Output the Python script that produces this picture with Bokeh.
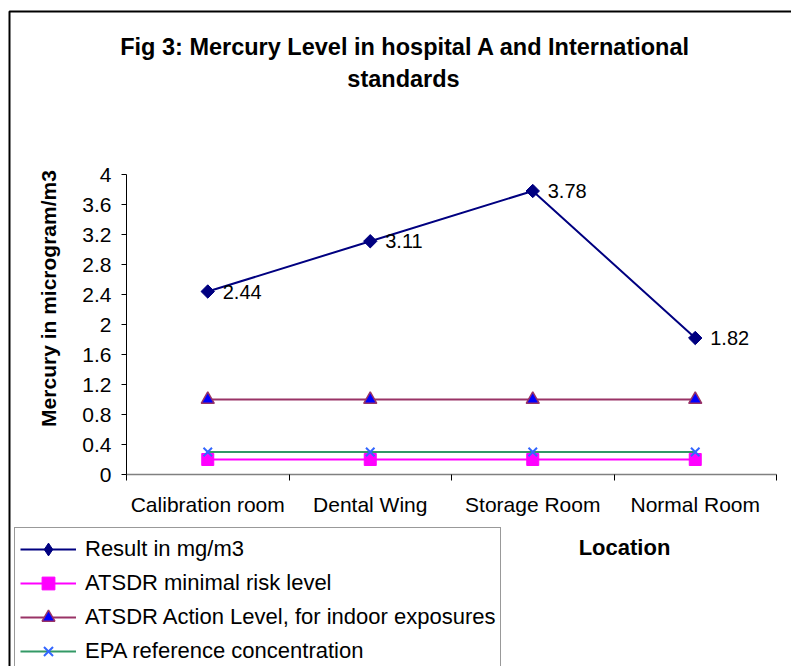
import math
from bokeh.plotting import figure
from bokeh.models import (Range1d, FixedTicker, LabelSet, Label, ColumnDataSource,
                          Legend, LegendItem, BoxAnnotation)
from bokeh.core.properties import value
from bokeh.embed import file_html
from bokeh.resources import INLINE

# ---- data ----
categories = ["Calibration room", "Dental Wing", "Storage Room", "Normal Room"]
result_values = [2.44, 3.11, 3.78, 1.82]
atsdr_mrl = [0.2, 0.2, 0.2, 0.2]
atsdr_action = [1.0, 1.0, 1.0, 1.0]
epa_ref = [0.3, 0.3, 0.3, 0.3]
series_names = ["Result in mg/m3", "ATSDR minimal risk level",
                "ATSDR Action Level, for indoor exposures", "EPA reference concentration"]
y_ticks = [0, 0.4, 0.8, 1.2, 1.6, 2, 2.4, 2.8, 3.2, 3.6, 4]
y_tick_labels = ["0", "0.4", "0.8", "1.2", "1.6", "2", "2.4", "2.8", "3.2", "3.6", "4"]
y_max = 4
title_lines = ["Fig 3: Mercury Level in hospital A and International", "standards"]
y_title = "Mercury in microgram/m3"
x_title = "Location"

FONT = "Liberation Sans"

# ---- layout (pixels on the page) ----
W, H = 791, 666
PX_LEFT, PX_RIGHT, PX_TOP, PX_BOTTOM = 126, 776, 174, 474

n = len(categories)
xs = [i + 0.5 for i in range(n)]
sx_per = (PX_RIGHT - PX_LEFT) / n
sy_per = (PX_BOTTOM - PX_TOP) / y_max
x_start, x_end = -PX_LEFT / sx_per, n + (W - PX_RIGHT) / sx_per
y_start, y_end = -(H - PX_BOTTOM) / sy_per, y_max + PX_TOP / sy_per

p = figure(width=W, height=H, output_backend="svg", toolbar_location=None,
           title=None, x_range=Range1d(x_start, x_end), y_range=Range1d(y_start, y_end),
           min_border=0)
p.grid.visible = False
p.outline_line_color = None
p.background_fill_color = "white"
p.border_fill_color = "white"

# outer chart border (left and top edges visible)
p.add_layout(BoxAnnotation(left=(9 - PX_LEFT) / sx_per, right=x_end + 1,
                           top=(PX_BOTTOM - 11) / sy_per, bottom=y_start - 1,
                           fill_alpha=0, line_color="#000000", line_alpha=1,
                           line_width=2, level="underlay"))

# axes drawn at the data origin
xa = p.xaxis[0]
xa.fixed_location = 0
xa.bounds = (0, n)
xa.ticker = FixedTicker(ticks=xs, minor_ticks=list(range(n + 1)))
xa.major_label_overrides = {x: c for x, c in zip(xs, categories)}
xa.major_tick_line_color = None
xa.major_tick_out = 0
xa.major_tick_in = 0
xa.minor_tick_out = 6
xa.minor_tick_in = 0
xa.minor_tick_line_color = "#000000"
xa.axis_line_color = "#808080"
xa.axis_line_width = 1.5
xa.major_label_text_font = FONT
xa.major_label_text_font_size = "21px"
xa.major_label_text_color = "#000000"
xa.major_label_standoff = 12

ya = p.yaxis[0]
ya.fixed_location = 0
ya.bounds = (0, y_max)
ya.ticker = FixedTicker(ticks=y_ticks)
ya.major_label_overrides = {t: l for t, l in zip(y_ticks, y_tick_labels)}
ya.minor_tick_line_color = None
ya.major_tick_out = 5
ya.major_tick_in = 0
ya.major_tick_line_color = "#000000"
ya.axis_line_color = "#000000"
ya.major_label_text_font = FONT
ya.major_label_text_font_size = "21px"
ya.major_label_text_color = "#000000"
ya.major_label_standoff = 10

# series
r1l = p.line(xs, result_values, line_color="#000080", line_width=2)
# diamond (used for the legend key) sits under the rotated square drawn on top
r1d = p.scatter(xs, result_values, marker="diamond", size=12,
                fill_color="#000080", line_color="#000080")
r1m = p.scatter(xs, result_values, marker="square", angle=math.pi / 4, size=9.5,
                fill_color="#000080", line_color="#000080")
r2l = p.line(xs, atsdr_mrl, line_color="#FF00FF", line_width=2)
r2m = p.scatter(xs, atsdr_mrl, marker="square", size=12,
                fill_color="#FF00FF", line_color="#FF00FF")
r3l = p.line(xs, atsdr_action, line_color="#993366", line_width=2)
r3m = p.scatter(xs, atsdr_action, marker="triangle", size=13,
                fill_color="#0000FF", line_color="#993366", line_width=1.5)
r4l = p.line(xs, epa_ref, line_color="#339966", line_width=2)
r4m = p.scatter(xs, epa_ref, marker="x", size=12, line_color="#3366FF", line_width=2)

# data labels
src = ColumnDataSource(dict(x=xs, y=result_values,
                            t=[f"{v:.2f}" for v in result_values]))
p.add_layout(LabelSet(x="x", y="y", text="t", source=src, x_offset=15, y_offset=0,
                      text_baseline="middle", text_align="left",
                      text_font=value(FONT), text_font_size="20px",
                      text_color="#000000"))

def page_label(text, px, py, size, bold=True, angle=0.0):
    p.add_layout(Label(x=px, y=H - py, x_units="screen", y_units="screen", text=text,
                       angle=angle, text_align="center", text_baseline="middle",
                       text_font=FONT, text_font_style="bold" if bold else "normal",
                       text_font_size=size, text_color="#000000"))

page_label(title_lines[0], 405, 46, "23.5px")
page_label(title_lines[1], 403, 78, "23.5px")
page_label(y_title, 48, 298, "21px", angle=math.pi / 2)
page_label(x_title, 624, 547, "22px")

legend = Legend(items=[
    LegendItem(label=series_names[0], renderers=[r1l, r1d]),
    LegendItem(label=series_names[1], renderers=[r2l, r2m]),
    LegendItem(label=series_names[2], renderers=[r3l, r3m]),
    LegendItem(label=series_names[3], renderers=[r4l, r4m]),
], location=(14, -7))
legend.glyph_width = 56
legend.glyph_height = 32
legend.label_height = 24
legend.spacing = 2
legend.padding = 5
legend.margin = 0
legend.label_standoff = 9
legend.label_text_font = FONT
legend.label_text_font_size = "22px"
legend.label_text_color = "#000000"
legend.border_line_color = "#333333"
legend.border_line_width = 1.5
legend.background_fill_color = "white"
legend.background_fill_alpha = 1
p.add_layout(legend, "center")

open("out.html", "w").write(file_html(p, INLINE))
